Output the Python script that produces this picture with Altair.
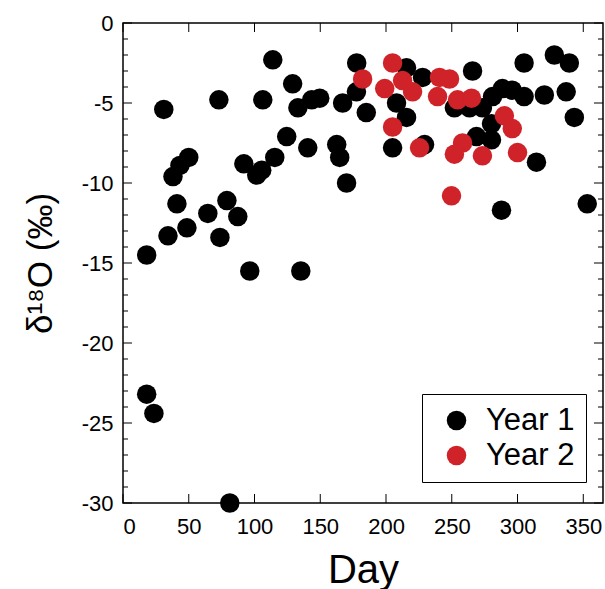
import altair as alt
import pandas as pd

# Year 1 observations (day of year, delta 18O in per mil)
year1_day = [18, 18, 23.5, 31, 34.2, 38, 41, 43.3, 50, 48.6, 64.5, 72.9, 73.7, 79,
             81.2, 87.3, 91.9, 96.4, 101.7, 105.5, 106.3, 113.9, 115.4, 124.5, 129,
             133, 143.5, 149.6, 135.2, 140.5, 162.5, 164.8, 170, 167, 177.7, 177.5,
             185, 215.6, 227.8, 208, 215.6, 205, 229.3, 265.8, 252, 263.5, 273.3,
             281, 288.5, 296, 305, 320.4, 337, 305, 328, 339.4, 343.2, 268.8, 280.2,
             280.2, 314.4, 287.8, 353]
year1_val = [-14.5, -23.2, -24.4, -5.4, -13.3, -9.6, -11.3, -8.9, -8.4, -12.8, -11.9,
             -4.8, -13.4, -11.1, -30.0, -12.1, -8.8, -15.5, -9.5, -9.2, -4.8, -2.3,
             -8.4, -7.1, -3.8, -5.3, -4.8, -4.7, -15.5, -7.8, -7.6, -8.4, -10.0, -5.0,
             -2.5, -4.3, -5.6, -2.8, -3.4, -5.0, -5.9, -7.8, -7.6, -3.0, -5.3, -5.3,
             -5.3, -4.6, -4.1, -4.2, -4.6, -4.5, -4.3, -2.5, -2.0, -2.5, -5.9, -7.1,
             -7.3, -6.3, -8.7, -11.7, -11.3]

# Year 2 observations
year2_day = [182.2, 205, 199, 212.6, 220.2, 240.7, 248.3, 239.2, 254.4, 265, 205,
             225.5, 258.2, 252, 273.3, 290, 296, 300, 249.8]
year2_val = [-3.5, -2.5, -4.1, -3.6, -4.3, -3.4, -3.5, -4.6, -4.8, -4.7, -6.5,
             -7.8, -7.5, -8.2, -8.3, -5.8, -6.6, -8.1, -10.8]

series_names = ["Year 1", "Year 2"]
series_colors = ["#000000", "#d02229"]

x_tick_values = [0, 50, 100, 150, 200, 250, 300, 350]
y_major_values = [-30, -25, -20, -15, -10, -5, 0]
y_minor_values = [v for v in range(-29, 0) if v % 5 != 0]

df = pd.DataFrame({
    "Day": year1_day + year2_day,
    "d18O": year1_val + year2_val,
    "Year": [series_names[0]] * len(year1_day) + [series_names[1]] * len(year2_day),
})

W, H = 480, 480
FONT = "Liberation Sans"

x_scale = alt.Scale(domain=[0, 365], nice=False, zero=False)
y_scale = alt.Scale(domain=[-30, 0], nice=False, zero=False)

x_axis = alt.Axis(values=x_tick_values, ticks=False, domain=False, grid=False,
                  labelFontSize=22, labelPadding=13, labelFont=FONT,
                  labelColor="black", title="Day", titleFontSize=40,
                  titleFont=FONT, titleFontWeight="normal", titleColor="black",
                  titleBaseline="alphabetic", titleY=79)
y_axis = alt.Axis(values=y_major_values, ticks=False, domain=False, grid=False,
                  labelExpr="toString(datum.value)",
                  labelFontSize=22, labelPadding=10, labelFont=FONT,
                  labelColor="black", title="δ¹⁸O (‰)", titleFontSize=35,
                  titleFont=FONT, titleFontWeight="normal", titleColor="black",
                  titleAngle=-90, titleBaseline="middle", titleAlign="center",
                  titleX=-83, titleY=240)

points = alt.Chart(df).mark_circle(size=380, opacity=1).encode(
    x=alt.X("Day:Q", scale=x_scale, axis=x_axis),
    y=alt.Y("d18O:Q", scale=y_scale, axis=y_axis),
    color=alt.Color("Year:N",
                    scale=alt.Scale(domain=series_names, range=series_colors),
                    legend=alt.Legend(title=None, orient="none", legendX=299, legendY=371,
                                      symbolType="circle", symbolSize=380,
                                      symbolStrokeWidth=0, labelFontSize=31,
                                      labelFont=FONT, labelColor="black",
                                      labelOffset=14, rowPadding=3, padding=11,
                                      symbolOffset=8, strokeColor="black",
                                      fillColor="white")),
)

ydf_major = pd.DataFrame({"d18O": y_major_values})
ydf_minor = pd.DataFrame({"d18O": y_minor_values})
xdf = pd.DataFrame({"Day": x_tick_values})

def yrule(data, x0, x1):
    return alt.Chart(data).mark_rule(color="black", strokeWidth=1).encode(
        y=alt.Y("d18O:Q", scale=y_scale, axis=y_axis),
        x=alt.value(x0), x2=alt.value(x1))

def xrule(data, y0, y1):
    return alt.Chart(data).mark_rule(color="black", strokeWidth=1).encode(
        x=alt.X("Day:Q", scale=x_scale, axis=x_axis),
        y=alt.value(y0), y2=alt.value(y1))

ticks = [
    yrule(ydf_major, 0, 9), yrule(ydf_minor, 0, 5),
    yrule(ydf_major, W - 9, W), yrule(ydf_minor, W - 5, W),
    xrule(xdf, H - 9, H), xrule(xdf, 0, 9),
]

chart = alt.layer(points, *ticks).properties(
    width=W, height=H,
    autosize=alt.AutoSizeParams(type="none"),
    padding={"left": 123, "top": 23, "right": 2, "bottom": 86},
    background="white",
).configure_view(stroke="black", strokeWidth=1.5)

chart.save("out.html", embed_options={"renderer": "svg", "actions": False})
